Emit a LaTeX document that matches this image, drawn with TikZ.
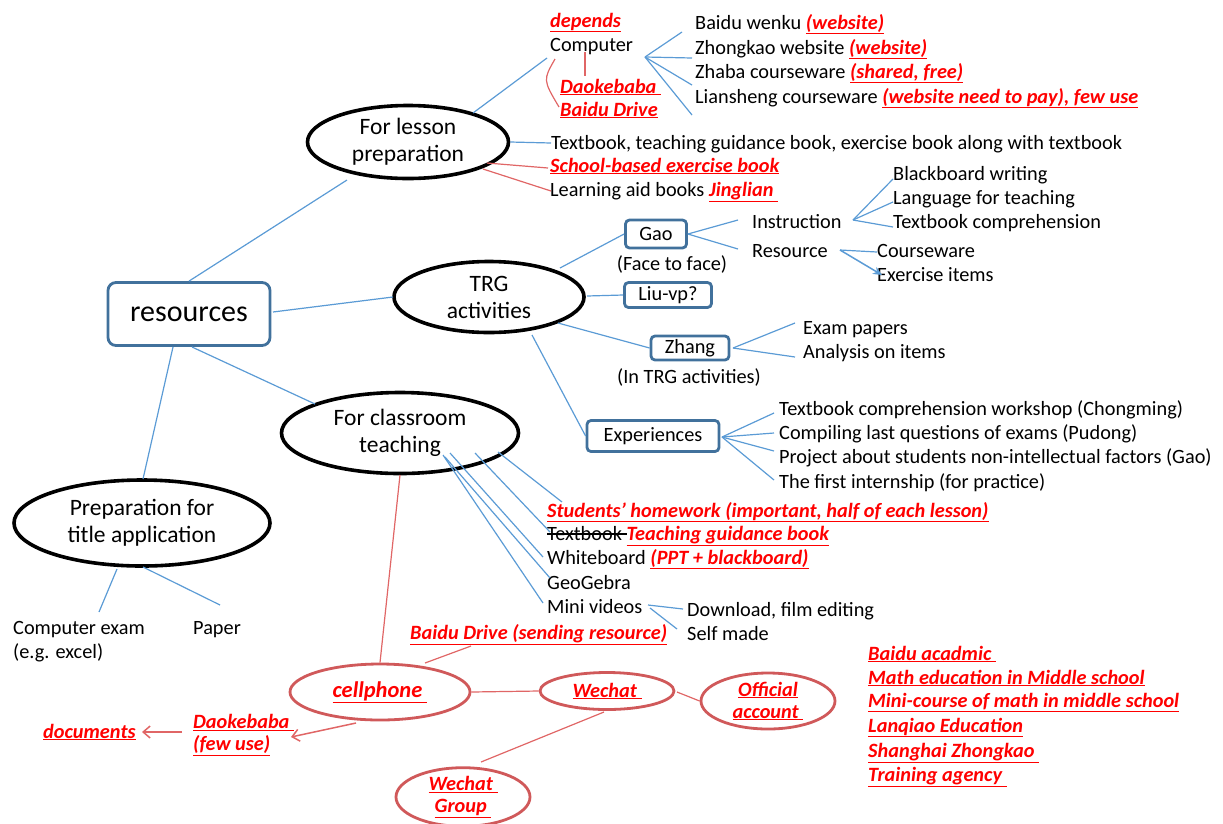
\documentclass[tikz,border=0pt]{standalone}
\usepackage{fontspec}
\setmainfont{Carlito}
\usetikzlibrary{arrows.meta,shapes.geometric}
\definecolor{lineblue}{HTML}{5B9BD5}
\definecolor{boxblue}{HTML}{41719C}
\definecolor{linered}{HTML}{E06666}
\definecolor{ellred}{HTML}{D0595A}
\definecolor{txtred}{HTML}{FF0000}
\newcommand{\rt}[1]{{\color{txtred}\bfseries\itshape\underline{#1}}}
\newcommand{\strk}[1]{\setbox0\hbox{#1}\rlap{\rule[0.27em]{\wd0}{0.07em}}\box0}
\begin{document}
\begin{tikzpicture}[x=1pt,y=-1pt,
  bl/.style={draw=lineblue, line width=1.2pt},
  rl/.style={draw=linered, line width=1.2pt},
  t/.style={anchor=west, inner sep=0pt, text height=15pt, text depth=3pt, font=\fontsize{20.3}{24}\selectfont},
  tc/.style={inner sep=0pt, text height=15pt, text depth=3pt, font=\fontsize{20.3}{24}\selectfont},
  ell/.style={ellipse, draw=black, line width=3.6pt, inner sep=0pt, align=center, font=\fontsize{23.5}{27}\selectfont},
  rell/.style={ellipse, draw=ellred, line width=2.8pt, inner sep=0pt, align=center, font=\fontsize{20.3}{24}\selectfont},
  bbox/.style={draw=boxblue, line width=2.8pt, rounded corners=4pt, inner sep=0pt, font=\fontsize{20.3}{24}\selectfont}]
\useasboundingbox (0,0) rectangle (1223,823);

% main nodes
\node[bbox, minimum width=162, minimum height=63, rounded corners=8pt, font=\fontsize{30}{36}\selectfont] (res) at (189,314) {resources};
\node[ell, minimum width=201, minimum height=73] (lp) at (408,142) {For lesson\\preparation};
\node[ell, minimum width=190, minimum height=71] (trg) at (489,297) {TRG\\activities};
\node[ell, minimum width=237, minimum height=81] (ct) at (400,433) {For classroom\\teaching};
\node[ell, minimum width=256, minimum height=86] (pt) at (142,523) {Preparation for\\title application};

% preparation for title
\node[t, align=left, text height=, text depth=] (cex) at (13,642) {Computer exam\\(e.g. excel)};
\node[t] (paper) at (193,628) {Paper};

% lesson preparation
\node[t] (dep) at (550,21) {\rt{depends}};
\node[t] (comp) at (550,45) {Computer};
\node[t] (dao1) at (560,87) {\rt{Daokebaba\ }};
\node[t] (bd1) at (560,110) {\rt{Baidu Drive}};
\node[t] (bw) at (695,23) {Baidu wenku \rt{(website)}};
\node[t] (zw) at (695,48) {Zhongkao website \rt{(website)}};
\node[t] (zc) at (695,72) {Zhaba courseware \rt{(shared, free)}};
\node[t] (lc) at (695,97) {Liansheng courseware \rt{(website need to pay), few use}};
\node[t] (tb) at (551,143) {Textbook, teaching guidance book, exercise book along with textbook};
\node[t] (sb) at (550,166) {\rt{School-based exercise book}};
\node[t] (la) at (550,190) {Learning aid books \rt{Jinglian\ }};

% TRG
\node[bbox, minimum width=61, minimum height=28] (gao) at (656,234) {Gao};
\node[tc] (f2f) at (672,264) {(Face to face)};
\node[bbox, minimum width=87, minimum height=25] (liu) at (668,295) {Liu-vp?};
\node[bbox, minimum width=78, minimum height=24] (zh) at (690,348) {Zhang};
\node[tc] (intrg) at (689,377) {(In TRG activities)};
\node[bbox, minimum width=132, minimum height=31] (exp) at (653,436) {Experiences};
\node[t] (ins) at (752,222) {Instruction};
\node[t] (rsc) at (752,251) {Resource};
\node[t] (bbw) at (893,174) {Blackboard writing};
\node[t] (lft) at (893,198) {Language for teaching};
\node[t] (tcp) at (893,222) {Textbook comprehension};
\node[t] (cw) at (877,251) {Courseware};
\node[t] (ei) at (877,275) {Exercise items};
\node[t] (ep) at (803,328) {Exam papers};
\node[t] (ai) at (803,352) {Analysis on items};
\node[t] (e1) at (779,409) {Textbook comprehension workshop (Chongming)};
\node[t] (e2) at (779,433) {Compiling last questions of exams (Pudong)};
\node[t] (e3) at (779,457) {Project about students non-intellectual factors (Gao)};
\node[t] (e4) at (779,482) {The first internship (for practice)};

% classroom
\node[t] (sh) at (547,511) {\rt{Students’ homework (important, half of each lesson)}};
\node[t] (tx) at (547,534) {\strk{Textbook }\rt{Teaching guidance book}};
\node[t] (wb) at (547,558) {Whiteboard \rt{(PPT + blackboard)}};
\node[t] (gg) at (547,583) {GeoGebra};
\node[t] (mv) at (547,607) {Mini videos};
\node[t] (dl) at (687,610) {Download, film editing};
\node[t] (sm) at (687,634) {Self made};

% red bottom
\node[t] (bdr) at (410,633) {\rt{Baidu Drive (sending resource)}};
\node[rell, minimum width=180, minimum height=56, font=\fontsize{22.5}{26}\selectfont] (cell) at (380,692) {\rt{cellphone\ }};
\node[rell, minimum width=134, minimum height=37] (wc) at (607,691) {\rt{Wechat\ }};
\node[rell, minimum width=134, minimum height=56] (oa) at (768,701) {\rt{Official}\\[-2pt]\rt{account\ }};
\node[rell, minimum width=134, minimum height=58] (wg) at (463,797) {\rt{Wechat\ }\\[-2pt]\rt{Group\ }};
\node[t, align=left, text height=, text depth=] (dao2) at (193,735) {\rt{Daokebaba\ }\\[-2pt]\rt{(few use)}};
\node[t] (doc) at (43,732) {\rt{documents}};
\node[t] (r1) at (868,654) {\rt{Baidu acadmic\ }};
\node[t] (r2) at (868,678) {\rt{Math education in Middle school}};
\node[t] (r3) at (868,701) {\rt{Mini-course of math in middle school}};
\node[t] (r4) at (868,726) {\rt{Lanqiao Education}};
\node[t] (r5) at (868,751) {\rt{Shanghai Zhongkao\ }};
\node[t] (r6) at (868,775) {\rt{Training agency\ }};

% connector end points
\coordinate (cf) at (645,57);
\coordinate (if) at (853,220);
\coordinate (rf) at (840,250);
\coordinate (zf) at (733,348);
\coordinate (xf) at (722,437);
\coordinate (mf) at (648,605);

% main connectors
\draw[bl] (res.north) -- (347,180);
\draw[bl] (273,312) -- (393,297);
\draw[bl] (192,347) -- (315,404);
\draw[bl] (173,347) -- (143,479);
\draw[bl] (117,569) -- (99,612);
\draw[bl] (143,567) -- (220,605);

% lesson prep connectors
\draw[bl] (473,113) -- (547,58);
\draw[rl] (585,52) -- (585,76);
\draw[rl] (555,59) .. controls (543,80) .. (559,107);
\draw[bl] (cf) -- (682,32);
\draw[bl] (cf) -- (692,58);
\draw[bl] (cf) -- (692,85);
\draw[bl] (cf) -- (692,115);
\draw[bl] (lp.east) -- (tb.west);
\draw[rl] (487,163) -- (548,168);
\draw[rl] (483,169) -- (551,191);

% TRG connectors
\draw[bl] (560,268) -- (gao.west);
\draw[bl] (587,296) -- (liu.west);
\draw[bl] (558,323) -- (zh.west);
\draw[bl] (532,335) -- (exp.west);
\draw[bl] (gao.east) -- (738,220);
\draw[bl] (gao.east) -- (738,249);
\draw[bl] (if) -- (893,179);
\draw[bl] (if) -- (893,202);
\draw[bl] (if) -- (893,227);
\draw[bl] (rf) -- (877,252);
\draw[bl, line width=1.5pt, -{Stealth[length=9pt,width=8pt]}] (rf) -- (882,275);
\draw[bl] (zf) -- (795,323);
\draw[bl] (zf) -- (795,357);
\draw[bl] (xf) -- (774,413);
\draw[bl] (xf) -- (774,433);
\draw[bl] (xf) -- (774,451);
\draw[bl] (xf) -- (774,480);

% classroom connectors
\draw[bl] (498,452) -- (562,502);
\draw[bl] (475,453) -- (550,532);
\draw[bl] (450,453) -- (543,557);
\draw[bl] (445,457) -- (550,578);
\draw[bl] (443,455) -- (543,603);
\draw[bl] (mf) -- (683,609);
\draw[bl] (650,608) -- (677,629);

% red connectors
\draw[rl] (400,475) -- (cell.north);
\draw[rl] (425,663) -- (471,646);
\draw[rl] (cell.east) -- (wc.west);
\draw[rl] (677,692) -- (oa.west);
\draw[rl] (604,712) -- (481,762);
\draw[rl, line width=1.5pt, -{Straight Barb[length=7pt,width=12pt]}] (356,723) -- (291,737);
\draw[rl, line width=1.5pt, -{Straight Barb[length=7pt,width=12pt]}] (182,732) -- (142,732);
\end{tikzpicture}
\end{document}
